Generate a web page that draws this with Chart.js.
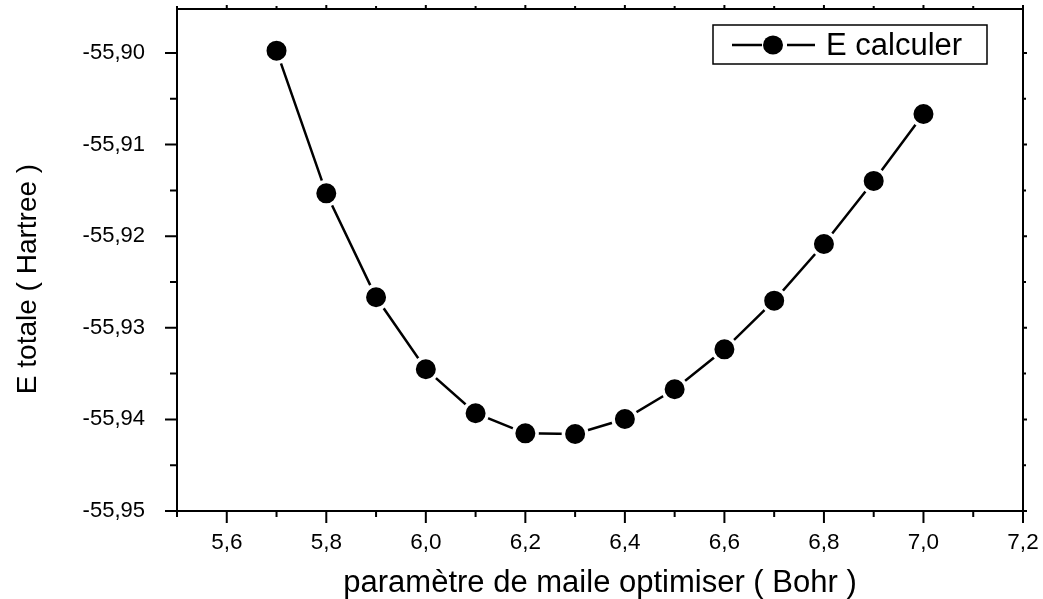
<!DOCTYPE html>
<html>
<head>
<meta charset="utf-8">
<script src="https://cdn.jsdelivr.net/npm/chart.js@4/dist/chart.umd.min.js"></script>
<style>
html,body{margin:0;padding:0;background:#fff;}
#wrap{width:1043px;height:599px;position:relative;}
</style>
</head>
<body>
<div id="wrap"><canvas id="c"></canvas></div>
<script>
// ---- data ----
const xValues = [5.7, 5.8, 5.9, 6.0, 6.1, 6.2, 6.3, 6.4, 6.5, 6.6, 6.7, 6.8, 6.9, 7.0];
const yValues = [-55.89975, -55.91532, -55.92667, -55.93453, -55.93933, -55.94152, -55.94159,
                 -55.93996, -55.93671, -55.93235, -55.92704, -55.92085, -55.91397, -55.90666];
const seriesLabel = 'E calculer';
const xTitle = 'paramètre de maile optimiser ( Bohr )';
const yTitle = 'E totale ( Hartree )';
const xTickValues = [5.6, 5.8, 6.0, 6.2, 6.4, 6.6, 6.8, 7.0, 7.2];
const xTickLabels = ['5,6', '5,8', '6,0', '6,2', '6,4', '6,6', '6,8', '7,0', '7,2'];
const xMinorValues = [5.5, 5.7, 5.9, 6.1, 6.3, 6.5, 6.7, 6.9, 7.1];
const yTickValues = [-55.95, -55.94, -55.93, -55.92, -55.91, -55.90];
const yTickLabels = ['-55,95', '-55,94', '-55,93', '-55,92', '-55,91', '-55,90'];
const yMinorValues = [-55.945, -55.935, -55.925, -55.915, -55.905, -55.895];
const xMin = 5.5, xMax = 7.2, yMin = -55.95, yMax = -55.8952;

const FONT = '"Liberation Sans", Arial, sans-serif';

const framePlugin = {
  id: 'frame',
  afterDraw(chart) {
    const ctx = chart.ctx, a = chart.chartArea;
    const xs = chart.scales.x, ys = chart.scales.y;
    ctx.save();
    ctx.strokeStyle = '#000';
    ctx.lineWidth = 2;
    ctx.strokeRect(a.left, a.top, a.right - a.left, a.bottom - a.top);
    ctx.beginPath();
    xTickValues.forEach(v => {
      const p = xs.getPixelForValue(v);
      ctx.moveTo(p, a.bottom); ctx.lineTo(p, a.bottom + 12);
      ctx.moveTo(p, a.top); ctx.lineTo(p, a.top - 4);
    });
    xMinorValues.forEach(v => {
      const p = xs.getPixelForValue(v);
      ctx.moveTo(p, a.bottom); ctx.lineTo(p, a.bottom + 6);
      ctx.moveTo(p, a.top); ctx.lineTo(p, a.top - 3);
    });
    yTickValues.forEach(v => {
      const p = ys.getPixelForValue(v);
      ctx.moveTo(a.left, p); ctx.lineTo(a.left - 12, p);
      ctx.moveTo(a.right, p); ctx.lineTo(a.right + 4, p);
    });
    yMinorValues.forEach(v => {
      const p = ys.getPixelForValue(v);
      if (p < a.top) return;
      ctx.moveTo(a.left, p); ctx.lineTo(a.left - 7, p);
      ctx.moveTo(a.right, p); ctx.lineTo(a.right + 3, p);
    });
    ctx.stroke();

    // y axis title
    ctx.save();
    ctx.translate(28, (a.top + a.bottom) / 2 + 19);
    ctx.rotate(-Math.PI / 2);
    ctx.font = '28px ' + FONT;
    ctx.fillStyle = '#000';
    ctx.textAlign = 'center';
    ctx.textBaseline = 'middle';
    ctx.fillText(yTitle, 0, 0);
    ctx.restore();

    // legend
    const lx = a.right - 310, ly = a.top + 16, lw = 274, lh = 39;
    ctx.lineWidth = 1.5;
    ctx.strokeRect(lx, ly, lw, lh);
    const cy = ly + lh / 2 + 0.5, cx = lx + 60;
    ctx.lineWidth = 2.5;
    ctx.beginPath();
    ctx.moveTo(lx + 19, cy); ctx.lineTo(cx - 11, cy);
    ctx.moveTo(cx + 14, cy); ctx.lineTo(lx + 102, cy);
    ctx.stroke();
    ctx.fillStyle = '#000';
    ctx.beginPath();
    ctx.ellipse(cx, cy, 10, 9.5, 0, 0, Math.PI * 2);
    ctx.fill();
    ctx.font = '31px ' + FONT;
    ctx.textAlign = 'left';
    ctx.textBaseline = 'alphabetic';
    ctx.fillText(chart.data.datasets[0].label, lx + 113, ly + 30);
    ctx.restore();
  }
};

new Chart(document.getElementById('c'), {
  type: 'line',
  data: {
    datasets: [{
      label: seriesLabel,
      data: xValues.map((x, i) => ({ x: x, y: yValues[i] })),
      borderColor: '#000',
      borderWidth: 2.5,
      backgroundColor: '#000',
      pointRadius: 11.75,
      pointBorderWidth: 3.5,
      pointBorderColor: '#fff',
      pointBackgroundColor: '#000',
      pointHoverRadius: 11.75,
      tension: 0,
      clip: false
    }]
  },
  options: {
    responsive: true,
    maintainAspectRatio: false,
    animation: false,
    events: [],
    layout: { autoPadding: false, padding: { left: 0, right: 20, top: 9, bottom: 0 } },
    plugins: { legend: { display: false }, tooltip: { enabled: false } },
    scales: {
      x: {
        type: 'linear',
        min: xMin, max: xMax,
        grid: { display: false },
        border: { display: false },
        afterBuildTicks: s => { s.ticks = xTickValues.map(v => ({ value: v })); },
        afterFit: s => { s.height = 88; s.paddingLeft = 0; s.paddingRight = 0; },
        ticks: {
          autoSkip: false, maxRotation: 0, padding: 10,
          color: '#000', font: { family: FONT, size: 22.5 },
          callback: (v, i) => xTickLabels[i]
        },
        title: {
          display: true, text: xTitle, color: '#000',
          font: { family: FONT, size: 31 },
          padding: { top: 0, bottom: -3 }
        }
      },
      y: {
        type: 'linear',
        min: yMin, max: yMax,
        grid: { display: false },
        border: { display: false },
        afterBuildTicks: s => { s.ticks = yTickValues.map(v => ({ value: v })); },
        afterFit: s => { s.width = 177; s.paddingTop = 0; s.paddingBottom = 0; },
        ticks: {
          autoSkip: false, padding: 24,
          color: '#000', font: { family: FONT, size: 22 },
          callback: (v, i) => yTickLabels[i]
        }
      }
    }
  },
  plugins: [framePlugin]
});
</script>
</body>
</html>
